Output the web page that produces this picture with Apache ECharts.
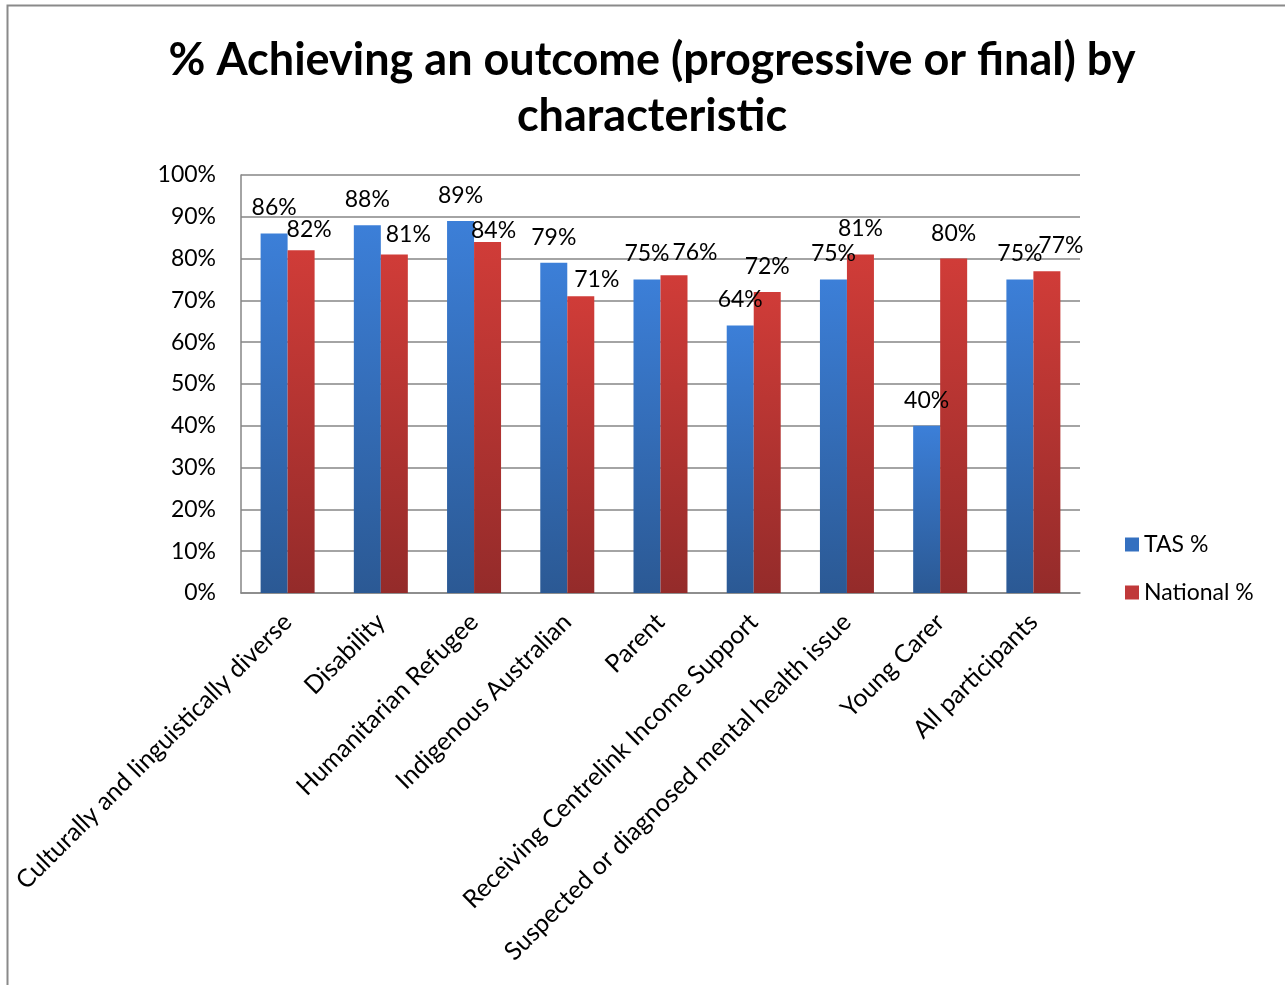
<!DOCTYPE html>
<html>
<head>
<meta charset="utf-8">
<script src="https://cdn.jsdelivr.net/npm/echarts@6/dist/echarts.min.js"></script>
<style>
  html, body { margin: 0; padding: 0; background: #fff; }
  #chart { width: 1285px; height: 985px; }
</style>
</head>
<body>
<div id="chart"></div>
<script>
// Share of participants achieving an outcome, by characteristic
const categories = [
  'Culturally and linguistically diverse',
  'Disability',
  'Humanitarian Refugee',
  'Indigenous Australian',
  'Parent',
  'Receiving Centrelink Income Support',
  'Suspected or diagnosed mental health issue',
  'Young Carer',
  'All participants'
];
const tasPct = [86, 88, 89, 79, 75, 64, 75, 40, 75];
const nationalPct = [82, 81, 84, 71, 76, 72, 81, 80, 77];
const yTicks = [0, 10, 20, 30, 40, 50, 60, 70, 80, 90, 100];

// small nudges so neighbouring value labels don't sit on each other
const nationalLabelNudge = [[8, 5], [14, 6], [6, 14], [16, 9], [21, 3], [0, 0], [0, 0], [0, 0], [14, 0]];

const FONT = 'Lato, "Open Sans", sans-serif';

function grad(top, bottom) {
  return new echarts.graphic.LinearGradient(0, 0, 0, 1, [
    { offset: 0, color: top },
    { offset: 1, color: bottom }
  ]);
}

const chart = echarts.init(document.getElementById('chart'));
chart.setOption({
  animation: false,
  backgroundColor: '#ffffff',
  graphic: [{
    type: 'rect',
    left: 5, top: 3,
    shape: { width: 1300, height: 1000 },
    style: { fill: 'none', stroke: '#8a8a8a', lineWidth: 2 },
    silent: true
  }],
  title: {
    text: '% Achieving an outcome (progressive or final) by\ncharacteristic',
    left: 647, top: 27, textAlign: 'center',
    textStyle: { fontFamily: FONT, fontSize: 45, fontWeight: 'bold', color: '#000', lineHeight: 56 }
  },
  legend: {
    orient: 'vertical',
    left: 1120, top: 528,
    itemWidth: 14, itemHeight: 14, itemGap: 25,
    icon: 'rect',
    textStyle: { fontFamily: FONT, fontSize: 23, color: '#000', padding: [0, 0, 0, 0] },
    data: [
      { name: 'TAS %', itemStyle: { color: '#3470c0' } },
      { name: 'National %', itemStyle: { color: '#c0393a' } }
    ]
  },
  grid: { left: 241, right: 205, top: 175, bottom: 392, containLabel: false },
  xAxis: {
    type: 'category',
    data: categories,
    axisLine: { lineStyle: { color: '#868686', width: 1.5 } },
    axisTick: { show: false },
    axisLabel: {
      rotate: 45, interval: 0, margin: 25,
      fontFamily: FONT, fontSize: 25, color: '#000'
    }
  },
  yAxis: {
    type: 'value',
    min: 0, max: 100, interval: 10,
    axisLine: { show: true, lineStyle: { color: '#868686', width: 1.5 } },
    axisTick: { show: false },
    splitLine: { lineStyle: { color: '#868686', width: 1.5 } },
    axisLabel: {
      margin: 25,
      fontFamily: FONT, fontSize: 23, color: '#000',
      formatter: v => (yTicks.includes(v) ? v + '%' : '')
    }
  },
  series: [
    {
      name: 'TAS %',
      type: 'bar',
      data: tasPct,
      barWidth: 27,
      barGap: '0%',
      itemStyle: { color: grad('#3c7fd8', '#2b5994') },
      label: {
        show: true, position: 'top', distance: 14,
        fontFamily: FONT, fontSize: 23, color: '#000',
        formatter: p => p.value + '%'
      }
    },
    {
      name: 'National %',
      type: 'bar',
      data: nationalPct.map((v, i) => ({
        value: v,
        label: { offset: nationalLabelNudge[i] }
      })),
      barWidth: 27,
      itemStyle: { color: grad('#d03c38', '#942b2a') },
      label: {
        show: true, position: 'top', distance: 14,
        fontFamily: FONT, fontSize: 23, color: '#000',
        formatter: p => p.value + '%'
      }
    }
  ]
});
</script>
</body>
</html>
